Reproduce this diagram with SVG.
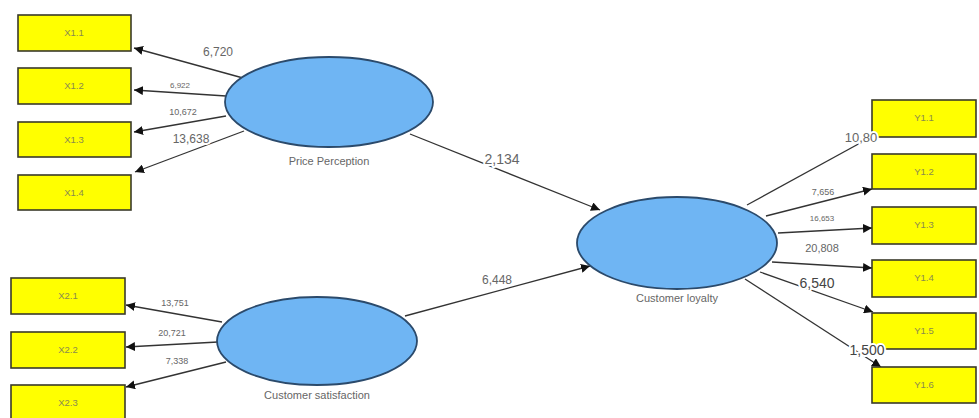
<svg xmlns="http://www.w3.org/2000/svg" width="979" height="418" viewBox="0 0 979 418">
<defs>
<marker id="ah" viewBox="0 0 10 10" refX="10" refY="5" markerWidth="9" markerHeight="9" markerUnits="userSpaceOnUse" orient="auto"><path d="M0,0 L10,5 L0,10 z" fill="#111"/></marker>
<style>
.box{fill:#ffff00;stroke:#3a3a2a;stroke-width:1.6}
.bt{font-family:"Liberation Sans",Arial,sans-serif;font-size:9.5px;fill:#8a8a50;text-anchor:middle}
.lv{fill:#6fb5f3;stroke:#2b4a6b;stroke-width:1.8}
.lt{font-family:"Liberation Sans",Arial,sans-serif;font-size:11px;fill:#666;text-anchor:middle}
.ln{stroke:#333;stroke-width:1.3;fill:none;marker-end:url(#ah)}
.w{font-family:"Liberation Sans",Arial,sans-serif;fill:#666;text-anchor:middle;stroke:#fff;stroke-width:4;paint-order:stroke;stroke-linejoin:round}
</style>
</defs>
<rect width="979" height="418" fill="#fff"/>
<g id="connectors">
<line class="ln" x1="243" y1="78" x2="134" y2="48"/>
<line class="ln" x1="226" y1="96" x2="134" y2="90"/>
<line class="ln" x1="226" y1="116" x2="134" y2="132"/>
<line class="ln" x1="244" y1="131" x2="135" y2="172"/>
<line class="ln" x1="410" y1="134" x2="600" y2="210"/>
<line class="ln" x1="405" y1="316" x2="590" y2="266"/>
<line class="ln" x1="222" y1="322" x2="126" y2="305"/>
<line class="ln" x1="218" y1="342" x2="126" y2="347"/>
<line class="ln" x1="226" y1="362" x2="126" y2="387"/>
<line class="ln" x1="747" y1="205" x2="873" y2="136"/>
<line class="ln" x1="766" y1="216" x2="872" y2="189"/>
<line class="ln" x1="778" y1="233" x2="872" y2="228"/>
<line class="ln" x1="772" y1="262" x2="872" y2="268"/>
<line class="ln" x1="760" y1="272" x2="873" y2="312"/>
<line class="ln" x1="745" y1="279" x2="881" y2="367"/>
</g>
<g id="X1.1"><rect class="box" x="18" y="15" width="113" height="36"/><text class="bt" x="74" y="36">X1.1</text></g>
<g id="X1.2"><rect class="box" x="18" y="68" width="113" height="36"/><text class="bt" x="74" y="89">X1.2</text></g>
<g id="X1.3"><rect class="box" x="18" y="122" width="113" height="35"/><text class="bt" x="74" y="143">X1.3</text></g>
<g id="X1.4"><rect class="box" x="18" y="175" width="113" height="35"/><text class="bt" x="74" y="196">X1.4</text></g>
<g id="X2.1"><rect class="box" x="11" y="278" width="114" height="36"/><text class="bt" x="68" y="299">X2.1</text></g>
<g id="X2.2"><rect class="box" x="11" y="332" width="114" height="36"/><text class="bt" x="68" y="353">X2.2</text></g>
<g id="X2.3"><rect class="box" x="11" y="385" width="114" height="36"/><text class="bt" x="68" y="406">X2.3</text></g>
<g id="Y1.1"><rect class="box" x="872" y="100" width="104" height="37"/><text class="bt" x="924" y="121">Y1.1</text></g>
<g id="Y1.2"><rect class="box" x="872" y="154" width="104" height="35"/><text class="bt" x="924" y="175">Y1.2</text></g>
<g id="Y1.3"><rect class="box" x="872" y="207" width="104" height="37"/><text class="bt" x="924" y="228">Y1.3</text></g>
<g id="Y1.4"><rect class="box" x="872" y="260" width="104" height="37"/><text class="bt" x="924" y="281">Y1.4</text></g>
<g id="Y1.5"><rect class="box" x="872" y="313" width="104" height="36"/><text class="bt" x="924" y="334">Y1.5</text></g>
<g id="Y1.6"><rect class="box" x="872" y="367" width="104" height="36"/><text class="bt" x="924" y="388">Y1.6</text></g>
<g id="price-perception"><ellipse class="lv" cx="329" cy="102" rx="104" ry="45"/><text class="lt" x="329" y="165">Price Perception</text></g>
<g id="customer-loyalty"><ellipse class="lv" cx="677" cy="243" rx="100" ry="46"/><text class="lt" x="677" y="302">Customer loyalty</text></g>
<g id="customer-satisfaction"><ellipse class="lv" cx="317" cy="341" rx="100" ry="44"/><text class="lt" x="317" y="399">Customer satisfaction</text></g>
<g id="connector-labels">
<text class="w" x="218" y="56" font-size="12">6,720</text>
<text class="w" x="180" y="88" font-size="8">6,922</text>
<text class="w" x="183" y="115" font-size="9">10,672</text>
<text class="w" x="191" y="143" font-size="12">13,638</text>
<text class="w" x="502" y="164" font-size="14">2,134</text>
<text class="w" x="497" y="284" font-size="12">6,448</text>
<text class="w" x="175" y="306" font-size="9">13,751</text>
<text class="w" x="172" y="336" font-size="9">20,721</text>
<text class="w" x="177" y="364" font-size="9">7,338</text>
<text class="w" x="861" y="142" font-size="13">10,80</text>
<text class="w" x="823" y="195" font-size="9">7,656</text>
<text class="w" x="822" y="221" font-size="8">16,653</text>
<text class="w" x="822" y="252" font-size="11">20,808</text>
<text class="w" x="817" y="288" font-size="14" style="fill:#444">6,540</text>
<text class="w" x="867" y="355" font-size="14" style="fill:#444">1,500</text>
</g>
</svg>
